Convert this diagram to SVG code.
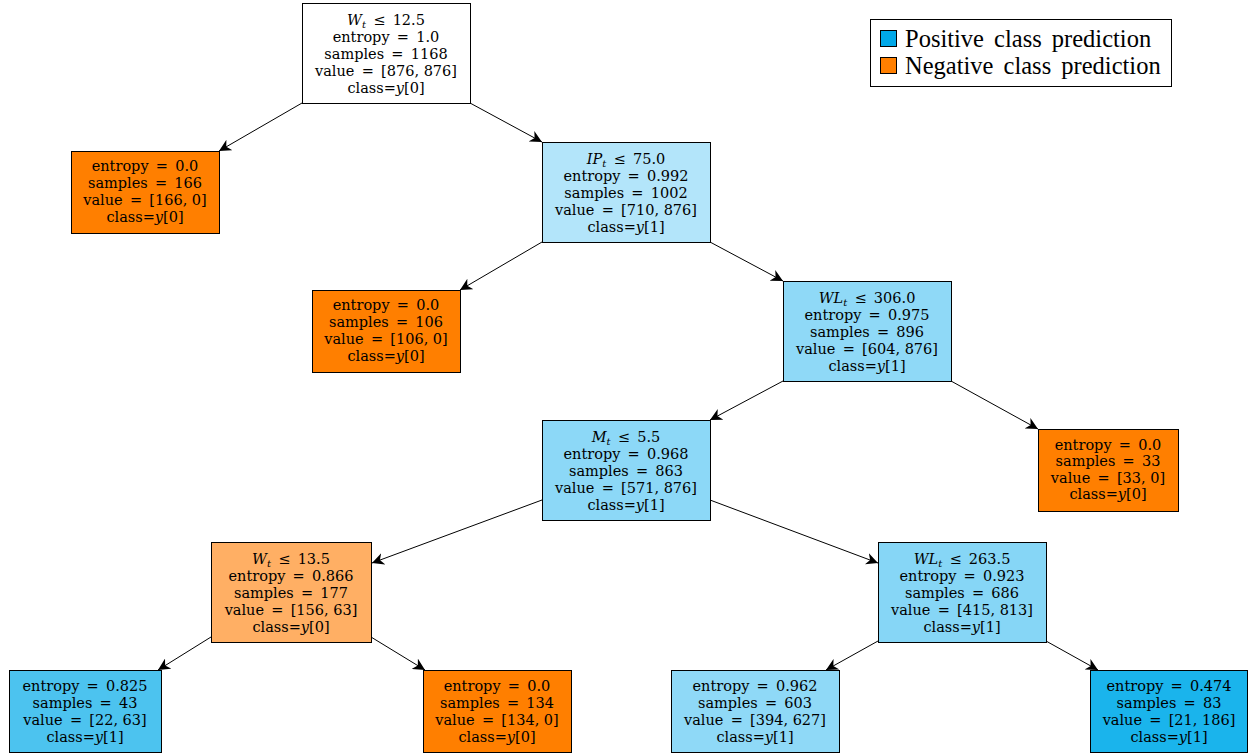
<svg xmlns="http://www.w3.org/2000/svg" width="1250" height="753" viewBox="0 0 1250 753">
  <style>
    .box { stroke: #000; stroke-width: 1; }
    .t { font-family: "DejaVu Serif", "Liberation Serif", serif; font-size: 14.5px; text-anchor: middle; fill: #000; transform: translateY(2px); }
    .m { font-style: italic; }
    .sub { font-style: italic; font-size: 10px; }
    .edge { stroke: #000; stroke-width: 1; fill: none; marker-end: url(#arrow); }
    .leg { font-family: "Liberation Serif", "DejaVu Serif", serif; font-size: 24.5px; word-spacing: 4px; fill: #000; }
  </style>
  <defs>
    <marker id="arrow" viewBox="0 0 10 10" refX="10" refY="5" markerWidth="12" markerHeight="12" markerUnits="userSpaceOnUse" orient="auto">
      <path d="M0,0 L10,5 L0,10 L3,5 z" fill="#000"/>
    </marker>
  </defs>
  <rect width="1250" height="753" fill="#fff"/>

  <g id="connectors">
    <line class="edge" x1="302" y1="103" x2="219" y2="151"/>
    <line class="edge" x1="470" y1="103" x2="542" y2="142"/>
    <line class="edge" x1="542" y1="242" x2="460" y2="290"/>
    <line class="edge" x1="710" y1="242" x2="783" y2="281"/>
    <line class="edge" x1="783" y1="381" x2="710" y2="420"/>
    <line class="edge" x1="951" y1="381" x2="1038" y2="429"/>
    <line class="edge" x1="542" y1="500" x2="372" y2="563"/>
    <line class="edge" x1="710" y1="500" x2="878" y2="563"/>
    <line class="edge" x1="211" y1="637" x2="158" y2="670"/>
    <line class="edge" x1="371" y1="637" x2="425" y2="670"/>
    <line class="edge" x1="878" y1="641" x2="826" y2="670"/>
    <line class="edge" x1="1046" y1="641" x2="1098" y2="670"/>
  </g>

  <g id="n0">
    <rect class="box" x="302.5" y="3.5" width="168" height="100" fill="#ffffff"/>
    <text class="t" x="386" y="23"><tspan class="m">W</tspan><tspan class="sub" dy="3">t</tspan><tspan dy="-3">&#8194;≤&#8194;12.5</tspan></text>
    <text class="t" x="386" y="40">entropy&#8194;=&#8194;1.0</text>
    <text class="t" x="386" y="57">samples&#8194;=&#8194;1168</text>
    <text class="t" x="386" y="74">value&#8194;=&#8194;[876, 876]</text>
    <text class="t" x="386" y="91">class=<tspan class="m">y</tspan>[0]</text>
  </g>

  <g id="n1">
    <rect class="box" x="71.5" y="151.5" width="148" height="82" fill="#ff7f00"/>
    <text class="t" x="145" y="169">entropy&#8194;=&#8194;0.0</text>
    <text class="t" x="145" y="186">samples&#8194;=&#8194;166</text>
    <text class="t" x="145" y="203">value&#8194;=&#8194;[166, 0]</text>
    <text class="t" x="145" y="220">class=<tspan class="m">y</tspan>[0]</text>
  </g>

  <g id="n2">
    <rect class="box" x="542.5" y="142.5" width="168" height="100" fill="#b3e5fa"/>
    <text class="t" x="626" y="162"><tspan class="m">IP</tspan><tspan class="sub" dy="3">t</tspan><tspan dy="-3">&#8194;≤&#8194;75.0</tspan></text>
    <text class="t" x="626" y="179">entropy&#8194;=&#8194;0.992</text>
    <text class="t" x="626" y="196">samples&#8194;=&#8194;1002</text>
    <text class="t" x="626" y="213">value&#8194;=&#8194;[710, 876]</text>
    <text class="t" x="626" y="230">class=<tspan class="m">y</tspan>[1]</text>
  </g>

  <g id="n3">
    <rect class="box" x="312.5" y="290.5" width="148" height="82" fill="#ff7f00"/>
    <text class="t" x="386" y="308">entropy&#8194;=&#8194;0.0</text>
    <text class="t" x="386" y="325">samples&#8194;=&#8194;106</text>
    <text class="t" x="386" y="342">value&#8194;=&#8194;[106, 0]</text>
    <text class="t" x="386" y="359">class=<tspan class="m">y</tspan>[0]</text>
  </g>

  <g id="n4">
    <rect class="box" x="783.5" y="281.5" width="168" height="100" fill="#8fd9f7"/>
    <text class="t" x="867" y="301"><tspan class="m">WL</tspan><tspan class="sub" dy="3">t</tspan><tspan dy="-3">&#8194;≤&#8194;306.0</tspan></text>
    <text class="t" x="867" y="318">entropy&#8194;=&#8194;0.975</text>
    <text class="t" x="867" y="335">samples&#8194;=&#8194;896</text>
    <text class="t" x="867" y="352">value&#8194;=&#8194;[604, 876]</text>
    <text class="t" x="867" y="369">class=<tspan class="m">y</tspan>[1]</text>
  </g>

  <g id="n5">
    <rect class="box" x="542.5" y="420.5" width="168" height="100" fill="#8cd8f7"/>
    <text class="t" x="626" y="440"><tspan class="m">M</tspan><tspan class="sub" dy="3">t</tspan><tspan dy="-3">&#8194;≤&#8194;5.5</tspan></text>
    <text class="t" x="626" y="457">entropy&#8194;=&#8194;0.968</text>
    <text class="t" x="626" y="474">samples&#8194;=&#8194;863</text>
    <text class="t" x="626" y="491">value&#8194;=&#8194;[571, 876]</text>
    <text class="t" x="626" y="508">class=<tspan class="m">y</tspan>[1]</text>
  </g>

  <g id="n6">
    <rect class="box" x="1038.5" y="429.5" width="140" height="82" fill="#ff7f00"/>
    <text class="t" x="1108" y="448">entropy&#8194;=&#8194;0.0</text>
    <text class="t" x="1108" y="464">samples&#8194;=&#8194;33</text>
    <text class="t" x="1108" y="481">value&#8194;=&#8194;[33, 0]</text>
    <text class="t" x="1108" y="497">class=<tspan class="m">y</tspan>[0]</text>
  </g>

  <g id="n7">
    <rect class="box" x="211.5" y="542.5" width="160" height="100" fill="#ffaf64"/>
    <text class="t" x="291" y="562"><tspan class="m">W</tspan><tspan class="sub" dy="3">t</tspan><tspan dy="-3">&#8194;≤&#8194;13.5</tspan></text>
    <text class="t" x="291" y="579">entropy&#8194;=&#8194;0.866</text>
    <text class="t" x="291" y="596">samples&#8194;=&#8194;177</text>
    <text class="t" x="291" y="613">value&#8194;=&#8194;[156, 63]</text>
    <text class="t" x="291" y="630">class=<tspan class="m">y</tspan>[0]</text>
  </g>

  <g id="n8">
    <rect class="box" x="878.5" y="542.5" width="168" height="100" fill="#86d6f6"/>
    <text class="t" x="962" y="562"><tspan class="m">WL</tspan><tspan class="sub" dy="3">t</tspan><tspan dy="-3">&#8194;≤&#8194;263.5</tspan></text>
    <text class="t" x="962" y="579">entropy&#8194;=&#8194;0.923</text>
    <text class="t" x="962" y="596">samples&#8194;=&#8194;686</text>
    <text class="t" x="962" y="613">value&#8194;=&#8194;[415, 813]</text>
    <text class="t" x="962" y="630">class=<tspan class="m">y</tspan>[1]</text>
  </g>

  <g id="n9">
    <rect class="box" x="9.5" y="670.5" width="152" height="82" fill="#4cc3ef"/>
    <text class="t" x="85" y="689">entropy&#8194;=&#8194;0.825</text>
    <text class="t" x="85" y="706">samples&#8194;=&#8194;43</text>
    <text class="t" x="85" y="723">value&#8194;=&#8194;[22, 63]</text>
    <text class="t" x="85" y="740">class=<tspan class="m">y</tspan>[1]</text>
  </g>

  <g id="n10">
    <rect class="box" x="423.5" y="670.5" width="148" height="82" fill="#ff7f00"/>
    <text class="t" x="497" y="689">entropy&#8194;=&#8194;0.0</text>
    <text class="t" x="497" y="706">samples&#8194;=&#8194;134</text>
    <text class="t" x="497" y="723">value&#8194;=&#8194;[134, 0]</text>
    <text class="t" x="497" y="740">class=<tspan class="m">y</tspan>[0]</text>
  </g>

  <g id="n11">
    <rect class="box" x="671.5" y="670.5" width="168" height="82" fill="#8fd9f7"/>
    <text class="t" x="755" y="689">entropy&#8194;=&#8194;0.962</text>
    <text class="t" x="755" y="706">samples&#8194;=&#8194;603</text>
    <text class="t" x="755" y="723">value&#8194;=&#8194;[394, 627]</text>
    <text class="t" x="755" y="740">class=<tspan class="m">y</tspan>[1]</text>
  </g>

  <g id="n12">
    <rect class="box" x="1090.5" y="670.5" width="157" height="82" fill="#1ab4ec"/>
    <text class="t" x="1169" y="689">entropy&#8194;=&#8194;0.474</text>
    <text class="t" x="1169" y="706">samples&#8194;=&#8194;83</text>
    <text class="t" x="1169" y="723">value&#8194;=&#8194;[21, 186]</text>
    <text class="t" x="1169" y="740">class=<tspan class="m">y</tspan>[1]</text>
  </g>

  <g id="legend">
    <rect x="870.5" y="19.5" width="301" height="67" fill="#fff" stroke="#000" stroke-width="1"/>
    <rect x="880.5" y="30.5" width="16" height="16" fill="#00a8e8" stroke="#000" stroke-width="1"/>
    <rect x="880.5" y="57.5" width="16" height="16" fill="#ff7f00" stroke="#000" stroke-width="1"/>
    <text class="leg" x="905" y="47">Positive class prediction</text>
    <text class="leg" x="905" y="74">Negative class prediction</text>
  </g>
</svg>
